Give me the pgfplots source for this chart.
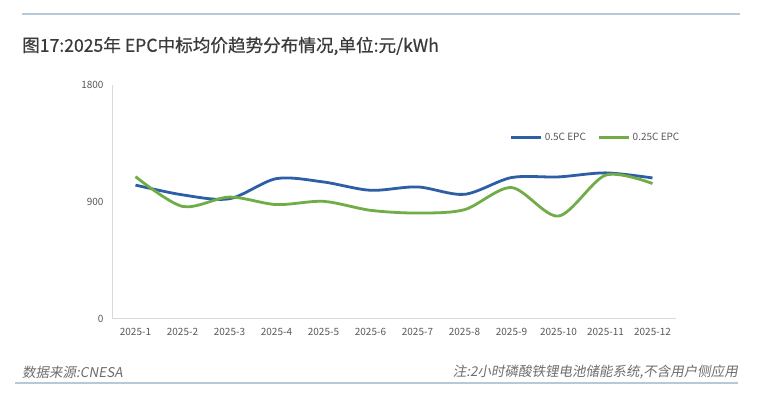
\documentclass[border=0pt]{standalone}
\usepackage{fontspec}
\usepackage{pgfplots}
\pgfplotsset{compat=1.18}
\setmainfont{Noto Sans CJK SC}
\newfontfamily\cjkit[FakeSlant=0.18]{Noto Sans CJK SC}
\newfontfamily\titlefont[FakeBold=0.6]{Noto Sans CJK SC}
\definecolor{sblue}{HTML}{2E5FA6}
\definecolor{sgreen}{HTML}{70AD47}
\definecolor{rulec}{HTML}{B7C8D6}
\definecolor{titlec}{HTML}{3A3A3A}
\definecolor{tickc}{HTML}{595959}
\definecolor{axc}{HTML}{D9D9D9}
\definecolor{footc}{HTML}{6E6E6E}
\begin{document}
\begin{tikzpicture}
\path[fill=white] (0,0) rectangle (774pt,399pt);
\draw[rulec, line width=1.5pt] (22pt,385pt) -- (740pt,385pt);
\draw[rulec, line width=2pt] (15pt,16pt) -- (738pt,16pt);
\node[anchor=west, text=titlec, inner sep=0pt, font=\titlefont\fontsize{17.6}{19}\selectfont] at (22pt,353pt) {图17:2025年 EPC中标均价趋势分布情况,单位:元/kWh};
\node[anchor=west, text=footc, inner sep=0pt, font=\cjkit\fontsize{13.5}{15}\selectfont] at (22pt,27pt) {数据来源:CNESA};
\node[anchor=east, text=footc, inner sep=0pt, font=\cjkit\fontsize{13.5}{15}\selectfont] at (738pt,27pt) {注:2小时磷酸铁锂电池储能系统,不含用户侧应用};
\begin{axis}[
  at={(112pt,80pt)}, anchor=south west,
  scale only axis, width=564pt, height=234pt,
  xmin=0.5, xmax=12.5, ymin=0, ymax=1800,
  ytick={0,900,1800},
  xtick={1,...,12},
  xticklabels={2025-1,2025-2,2025-3,2025-4,2025-5,2025-6,2025-7,2025-8,2025-9,2025-10,2025-11,2025-12},
  axis lines*=left,
  axis line style={axc, line width=1pt},
  major tick length=0pt,
  tick style={draw=none},
  /pgf/number format/assume math mode=true,
  /pgf/number format/set thousands separator={},
  ticklabel style={text=tickc, font=\fontsize{10}{12}\selectfont},
  yticklabel style={xshift=-5pt},
  xticklabel style={yshift=-6pt},
  legend style={draw=none, fill=none, at={(rel axis cs:0.700,0.774)}, anchor=west,
    font=\fontsize{10}{12}\selectfont, text=tickc, legend columns=2,
    /tikz/every even column/.append style={column sep=10pt}},
  legend image code/.code={\draw[#1] (0pt,0pt) -- (30pt,0pt);},
]
\addplot[sblue, line width=2.8pt, smooth] coordinates {
(1,1030) (2,955) (3,925) (4,1080) (5,1054) (6,990) (7,1016) (8,959) (9,1088) (10,1093) (11,1124) (12,1085)};
\addlegendentry{0.5C EPC}
\addplot[sgreen, line width=2.8pt, smooth] coordinates {
(1,1095) (2,866) (3,938) (4,880) (5,905) (6,836) (7,815) (8,841) (9,1011) (10,792) (11,1106) (12,1042)};
\addlegendentry{0.25C EPC}
\end{axis}
\end{tikzpicture}
\end{document}
